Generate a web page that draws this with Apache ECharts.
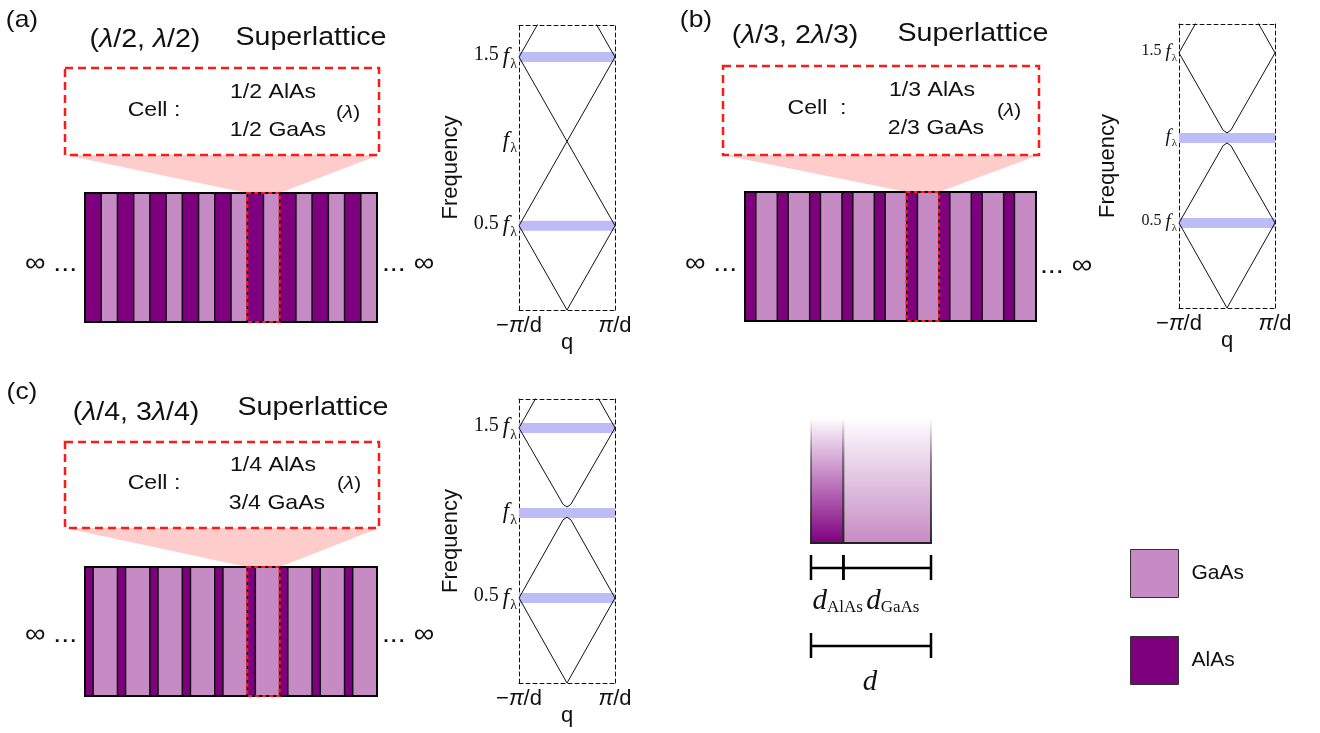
<!DOCTYPE html>
<html><head><meta charset="utf-8">
<script src="https://cdn.jsdelivr.net/npm/echarts/dist/echarts.min.js"></script>
<style>html,body{margin:0;padding:0;background:#fff}#c{width:1320px;height:733px}</style>
</head><body><div id="c"></div>
<script>
// ---------------- DATA ----------------
const panelLabels = ['(a)', '(b)', '(c)'];
const cellCount = 9;
const alasFraction = [1/2, 1/3, 1/4];
const highlightCell = 5;
const cellLinesA = ['1/2 AlAs', '1/2 GaAs'];
const cellLinesB = ['1/3 AlAs', '2/3 GaAs'];
const cellLinesC = ['1/4 AlAs', '3/4 GaAs'];
const titleFracA = ['λ/2', 'λ/2'];
const titleFracB = ['λ/3', '2λ/3'];
const titleFracC = ['λ/4', '3λ/4'];
// band lines (q in units of pi/d, frequency in units of f_lambda)
const bandsA = [
  [[-1, 0.5], [0, 0], [1, 0.5]],
  [[-1, 0.5], [1, 1.5]],
  [[1, 0.5], [-1, 1.5]],
  [[-1, 1.5], [0, 2], [1, 1.5]]
];
const bandsB = [
  [[-1, 0.5], [0, 0], [1, 0.5]],
  [[-1, 0.5], [-0.08, 0.955], [0, 0.97], [0.08, 0.955], [1, 0.5]],
  [[-1, 1.5], [-0.08, 1.045], [0, 1.03], [0.08, 1.045], [1, 1.5]],
  [[-1, 1.5], [0, 2], [1, 1.5]]
];
const bandsC = [
  [[-1, 0.5], [0, 0], [1, 0.5]],
  [[-1, 0.5], [-0.08, 0.96], [0, 0.975], [0.08, 0.96], [1, 0.5]],
  [[-1, 1.5], [-0.08, 1.05], [0, 1.035], [0.08, 1.05], [1, 1.5]],
  [[-1, 1.5], [0, 2], [1, 1.5]]
];
const gapsA = [0.5, 1.5];
const gapsB = [0.5, 1.0];
const gapsC = [0.5, 1.0, 1.5];
const qTickValues = [-1, 1];
const qTickLabels = ['−π/d', 'π/d'];
const freqTickValues = [0.5, 1, 1.5];
const freqTickNumbers = ['0.5', '', '1.5'];
const legendNames = ['GaAs', 'AlAs'];
const unitCellEdges = [0, 0.27, 1];   // d_AlAs / d , 1

// ---------------- STYLE / LAYOUT ----------------
const C_ALAS = '#7f007f', C_GAAS = '#c68bc4', C_GAP = '#bcbcf6', C_RED = '#ff1a1a';
const SANS = 'Liberation Sans', SERIF = 'Liberation Serif';
const slGrids = [
  {left: 85, top: 193, width: 292, height: 129},
  {left: 745, top: 192, width: 291, height: 129},
  {left: 85, top: 567, width: 292, height: 129}
];
const boxes = [
  {x: 65, y: 68, w: 314, h: 87},
  {x: 723, y: 66, w: 316, h: 89},
  {x: 65, y: 442, w: 314, h: 86}
];
const bandGrids = [
  {left: 519, top: 25, width: 96, height: 285, max: 1.69, lab: 20, nameGap: 57, qGap: 22},
  {left: 1179, top: 24, width: 96, height: 284, max: 1.67, lab: 16, nameGap: 60, qGap: 22},
  {left: 519, top: 399, width: 96, height: 284, max: 1.67, lab: 20, nameGap: 57, qGap: 22}
];
const unitGrid = {left: 811, top: 418, width: 120, height: 125};

const cellLines = [cellLinesA, cellLinesB, cellLinesC];
const titleFracs = [titleFracA, titleFracB, titleFracC];
const bands = [bandsA, bandsB, bandsC];
const gaps = [gapsA, gapsB, gapsC];

const grid = [], xAxis = [], yAxis = [], series = [];
const hidden = {show: false};
const noLine = {axisLine: hidden, axisTick: hidden, axisLabel: hidden, splitLine: hidden};

// superlattice grids 0..2
slGrids.forEach((g, k) => {
  grid.push(Object.assign({outerBoundsMode: 'none', containLabel: false}, g));
  xAxis.push(Object.assign({type: 'value', gridIndex: k, min: 0, max: cellCount}, noLine));
  yAxis.push(Object.assign({type: 'value', gridIndex: k, min: 0, max: 1}, noLine));
});
// band grids 3..5
bandGrids.forEach((g, k) => {
  grid.push({left: g.left, top: g.top, width: g.width, height: g.height, outerBoundsMode: 'none', containLabel: false});
});
const dashLine = {show: true, onZero: false, lineStyle: {color: '#111', width: 1, type: [4, 3]}};
const qRich = {
  r: {fontFamily: SANS, fontSize: 22, color: '#111'},
  p: {fontFamily: SANS, fontStyle: 'italic', fontSize: 22, color: '#111'}
};
const qFmt = t => t.split('π').map(x => x ? '{r|' + x + '}' : '').join('{p|π}');
bandGrids.forEach((g, k) => {
  xAxis.push({type: 'value', gridIndex: 3 + k, min: -1, max: 1, interval: 1, position: 'bottom',
    axisLine: dashLine, axisTick: hidden, splitLine: hidden,
    axisLabel: {show: true, margin: 5, color: '#111', fontFamily: SANS, fontSize: 22, showMinLabel: true, showMaxLabel: true,
      rich: qRich,
      formatter: v => { const i = qTickValues.indexOf(v); return i >= 0 ? qFmt(qTickLabels[i]) : ''; }},
    name: 'q', nameLocation: 'middle', nameGap: g.qGap, nameMoveOverlap: false,
    nameTextStyle: {color: '#111', fontFamily: SANS, fontSize: 22}});
});
bandGrids.forEach((g, k) => {
  xAxis.push({type: 'value', gridIndex: 3 + k, min: -1, max: 1, position: 'top', axisLine: dashLine, axisTick: hidden, axisLabel: hidden, splitLine: hidden});
});
bandGrids.forEach((g, k) => {
  const s = g.lab;
  const sub = Math.round(s * 0.68);
  yAxis.push({type: 'value', gridIndex: 3 + k, min: 0, max: g.max, interval: 0.5, position: 'left',
    axisLine: dashLine, axisTick: hidden, splitLine: hidden,
    axisLabel: {show: true, margin: 2, showMaxLabel: false,
      formatter: v => {
        const i = freqTickValues.findIndex(t => Math.abs(t - v) < 1e-6);
        if (i < 0) return '';
        return (freqTickNumbers[i] ? '{n|' + freqTickNumbers[i] + '}' : '') + '{f|f}{s|λ}';
      },
      rich: {
        n: {fontFamily: SERIF, fontSize: s, color: '#111', verticalAlign: 'top', lineHeight: s + 4},
        f: {fontFamily: SERIF, fontStyle: 'italic', fontSize: s + 3, color: '#111', verticalAlign: 'top', lineHeight: s + 4, padding: [0, 1, 0, 4]},
        s: {fontFamily: SERIF, fontSize: sub, color: '#111', verticalAlign: 'top', lineHeight: sub, padding: [Math.round(s * 0.6), 0, 0, 0]}
      }},
    name: 'Frequency', nameLocation: 'middle', nameRotate: 90, nameGap: g.nameGap, nameMoveOverlap: false,
    nameTextStyle: {color: '#111', fontFamily: SANS, fontSize: 22}});
});
bandGrids.forEach((g, k) => {
  yAxis.push({type: 'value', gridIndex: 3 + k, min: 0, max: g.max, position: 'right', axisLine: dashLine, axisTick: hidden, axisLabel: hidden, splitLine: hidden});
});
// unit cell grid 6
grid.push(Object.assign({outerBoundsMode: 'none', containLabel: false}, unitGrid));
xAxis.push(Object.assign({type: 'value', gridIndex: 6, min: 0, max: 1}, noLine));
yAxis.push(Object.assign({type: 'value', gridIndex: 6, min: 0, max: 1}, noLine));

// ---- superlattice series ----
slGrids.forEach((g, k) => {
  const f = alasFraction[k];
  const alas = [], gaas = [];
  for (let i = 0; i < cellCount; i++) { alas.push([i, i + f]); gaas.push([i + f, i + 1]); }
  const stripe = (name, color, stroke, lw, data, z) => ({
    type: 'custom', name, xAxisIndex: k, yAxisIndex: k, silent: true, itemStyle: {color}, data, z,
    renderItem: (p, api) => {
      const a = api.coord([api.value(0), 1]), b = api.coord([api.value(1), 0]);
      return {type: 'rect', shape: {x: a[0], y: a[1], width: b[0] - a[0], height: b[1] - a[1]},
        style: {fill: color, stroke, lineWidth: lw}};
    }
  });
  series.push(stripe('GaAs', C_GAAS, '#666', 1, gaas, 3));
  series.push(stripe('AlAs', C_ALAS, '#111', 1.5, alas, 3.5));
  // frame, highlight, funnel
  const bx = boxes[k];
  series.push({type: 'custom', name: 'frame' + k, xAxisIndex: k, yAxisIndex: k, silent: true, z: 4,
    data: [[0, cellCount, highlightCell, highlightCell + 1]],
    renderItem: (p, api) => {
      const a = api.coord([api.value(0), 1]), b = api.coord([api.value(1), 0]);
      const h0 = api.coord([api.value(2), 1]), h1 = api.coord([api.value(3), 0]);
      return {type: 'group', children: [
        {type: 'polygon', shape: {points: [[bx.x, bx.y + bx.h], [bx.x + bx.w, bx.y + bx.h], [h1[0], h0[1]], [h0[0], h0[1]]]},
          style: {fill: '#ffcccc'}},
        {type: 'rect', shape: {x: a[0], y: a[1], width: b[0] - a[0], height: b[1] - a[1]}, style: {fill: null, stroke: '#000', lineWidth: 2}},
        {type: 'rect', shape: {x: h0[0], y: h0[1], width: h1[0] - h0[0], height: h1[1] - h0[1]},
          style: {fill: null, stroke: C_RED, lineWidth: 2.2, lineDash: [4, 3]}}
      ]};
    }});
});

// ---- band series ----
bandGrids.forEach((g, k) => {
  gaps[k].forEach(v => series.push({type: 'line', xAxisIndex: 3 + k, yAxisIndex: 3 + k, data: [[-1, v], [1, v]],
    symbol: 'none', silent: true, z: 1, lineStyle: {color: C_GAP, width: 10, cap: 'butt'}}));
  bands[k].forEach(b => series.push({type: 'line', xAxisIndex: 3 + k, yAxisIndex: 3 + k, data: b, clip: true,
    symbol: 'none', silent: true, z: 3, lineStyle: {color: '#111', width: 1}}));
});

// ---- unit cell schematic ----
const layerData = [[unitCellEdges[0], unitCellEdges[1], 0], [unitCellEdges[1], unitCellEdges[2], 1]];
series.push({type: 'custom', name: 'unitcell', xAxisIndex: 9, yAxisIndex: 9, silent: true, data: layerData,
  renderItem: (p, api) => {
    const a = api.coord([api.value(0), 1]), b = api.coord([api.value(1), 0]);
    const col = api.value(2) === 0 ? C_ALAS : C_GAAS;
    const tint = api.value(2) === 0 ? '#f0ddf0' : '#f8eef8';
    const grad = {type: 'linear', x: 0, y: 0, x2: 0, y2: 1, colorStops: [
      {offset: 0, color: '#ffffff'}, {offset: 0.12, color: tint}, {offset: 1, color: col}]};
    const edge = {type: 'linear', x: 0, y: 0, x2: 0, y2: 1, colorStops: [
      {offset: 0, color: 'rgba(60,60,60,0)'}, {offset: 0.35, color: 'rgba(60,60,60,0.6)'}, {offset: 1, color: 'rgba(40,40,40,1)'}]};
    return {type: 'group', children: [
      {type: 'rect', shape: {x: a[0], y: a[1], width: b[0] - a[0], height: b[1] - a[1]}, style: {fill: grad}},
      {type: 'rect', shape: {x: a[0] - 1, y: a[1], width: 2, height: b[1] - a[1]}, style: {fill: edge}},
      {type: 'rect', shape: {x: b[0] - 1, y: a[1], width: 2, height: b[1] - a[1]}, style: {fill: edge}},
      {type: 'line', shape: {x1: a[0] - 1, y1: b[1], x2: b[0] + 1, y2: b[1]}, style: {stroke: '#222', lineWidth: 2}}
    ]};
  }});
const barData = [[unitCellEdges[0], unitCellEdges[1], 25], [unitCellEdges[1], unitCellEdges[2], 25], [unitCellEdges[0], unitCellEdges[2], 103]];
series.push({type: 'custom', name: 'bars', xAxisIndex: 9, yAxisIndex: 9, silent: true, data: barData,
  renderItem: (p, api) => {
    const a = api.coord([api.value(0), 0]), b = api.coord([api.value(1), 0]);
    const y = a[1] + api.value(2);
    const st = {stroke: '#000', lineWidth: 2.5};
    return {type: 'group', children: [
      {type: 'line', shape: {x1: a[0], y1: y, x2: b[0], y2: y}, style: st},
      {type: 'line', shape: {x1: a[0], y1: y - 13, x2: a[0], y2: y + 12}, style: st},
      {type: 'line', shape: {x1: b[0], y1: y - 13, x2: b[0], y2: y + 12}, style: st}
    ]};
  }});

// ---- texts ----
const SX = 1.1;
function txt(x, y, text, size, extra) {
  return {type: 'text', x, y, scaleX: SX, silent: true, z: 50,
    style: Object.assign({text, fontSize: size, fontFamily: SANS, fill: '#111', align: 'center', verticalAlign: 'middle'}, extra || {})};
}
const richLam = s => ({i: {fontFamily: SANS, fontStyle: 'italic', fontSize: s, fill: '#111'}, r: {fontFamily: SANS, fontSize: s, fill: '#111'}});
function fracTitle(fr) {
  const part = t => t.split('λ').map(x => x ? '{r|' + x + '}' : '').join('{i|λ}');
  return '{r|(}' + part(fr[0]) + '{r|, }' + part(fr[1]) + '{r|)}';
}
const textPos = [
  {lab: [22, 20], title: [145, 40], sup: [311, 38], cell: [154, 110], l1: [273, 92], l2: [278, 130], lam: [348, 113], infL: [51, 264], infR: [408, 264], cellTxt: 'Cell :'},
  {lab: [696, 20], title: [795, 36], sup: [973, 34], cell: [817, 108], l1: [932, 90], l2: [936, 128], lam: [1009, 111], infL: [711, 264], infR: [1066, 266], cellTxt: 'Cell  :'},
  {lab: [22, 392], title: [136, 413], sup: [313, 408], cell: [154, 483], l1: [273, 465], l2: [277, 503], lam: [349, 484], infL: [51, 635], infR: [408, 635], cellTxt: 'Cell :'}
];
const graphic = [];
textPos.forEach((t, k) => {
  const bx = boxes[k];
  graphic.push({type: 'rect', silent: true, z: 40, shape: {x: bx.x, y: bx.y, width: bx.w, height: bx.h},
    style: {fill: '#fff', stroke: C_RED, lineWidth: 2.5, lineDash: [8, 5]}});
  graphic.push(txt(t.lab[0], t.lab[1], panelLabels[k], 24));
  graphic.push(txt(t.title[0], t.title[1], fracTitle(titleFracs[k]), 26, {rich: richLam(26)}));
  graphic.push(txt(t.sup[0], t.sup[1], 'Superlattice', 26));
  graphic.push(txt(t.cell[0], t.cell[1], t.cellTxt, 21));
  graphic.push(txt(t.l1[0], t.l1[1], cellLines[k][0], 21));
  graphic.push(txt(t.l2[0], t.l2[1], cellLines[k][1], 21));
  graphic.push(txt(t.lam[0], t.lam[1], '{r|(}{i|λ}{r|)}', 19, {rich: richLam(19)}));
  graphic.push(txt(t.infL[0], t.infL[1], '∞ ...', 26));
  graphic.push(txt(t.infR[0], t.infR[1], '... ∞', 26));
});
graphic.push({type: 'text', x: 866, y: 602, silent: true, z: 50, style: {
  text: '{d|d}{s|AlAs} {d|d}{s|GaAs}', align: 'center', verticalAlign: 'middle',
  rich: {d: {fontFamily: SERIF, fontStyle: 'italic', fontSize: 29, fill: '#111', verticalAlign: 'top', lineHeight: 30},
         s: {fontFamily: SERIF, fontSize: 17, fill: '#111', verticalAlign: 'top', lineHeight: 17, padding: [12, 0, 0, 0]}}}});
graphic.push({type: 'text', x: 870, y: 682, silent: true, z: 50, style: {text: 'd', fontFamily: SERIF, fontStyle: 'italic', fontSize: 29, fill: '#111', align: 'center', verticalAlign: 'middle'}});

const option = {
  animation: false,
  backgroundColor: '#fff',
  grid, xAxis, yAxis, series, graphic,
  legend: {
    left: 1130, top: 549, orient: 'vertical', itemWidth: 48, itemHeight: 48, itemGap: 38, padding: 0,
    selectedMode: false, icon: 'rect',
    textStyle: {fontFamily: SANS, fontSize: 21, color: '#111', padding: [0, 0, 0, 8]},
    data: [
      {name: legendNames[0], icon: 'rect', itemStyle: {color: C_GAAS, borderColor: '#333', borderWidth: 1}},
      {name: legendNames[1], icon: 'rect', itemStyle: {color: C_ALAS, borderColor: '#333', borderWidth: 1}}
    ]
  }
};
const chart = echarts.init(document.getElementById('c'), null, {renderer: 'canvas'});
chart.setOption(option);
</script></body></html>
